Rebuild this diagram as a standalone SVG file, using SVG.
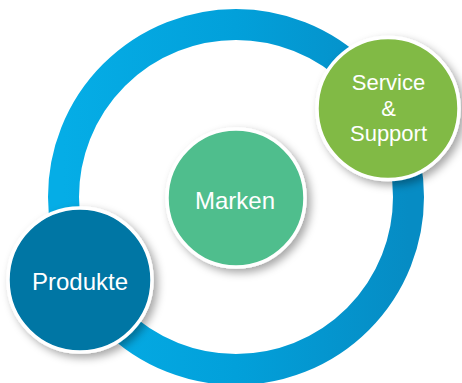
<svg xmlns="http://www.w3.org/2000/svg" width="462" height="383" viewBox="0 0 462 383">
  <defs>
    <linearGradient id="ringGrad" x1="0" y1="0" x2="1" y2="0">
      <stop offset="0" stop-color="#05ADE6"/>
      <stop offset="0.5" stop-color="#02A0DA"/>
      <stop offset="1" stop-color="#068CC4"/>
    </linearGradient>
    <filter id="shadow" x="-30%" y="-30%" width="170%" height="170%">
      <feDropShadow dx="4" dy="4" stdDeviation="4" flood-color="#000" flood-opacity="0.35"/>
    </filter>
    <style>
      .node { stroke: #fff; stroke-width: 3.5; filter: url(#shadow); }
      .label { font-family: "Liberation Sans", Arial, sans-serif; font-size: 24px; fill: #fff; text-anchor: middle; }
      .small { font-size: 22px; }
    </style>
  </defs>
  <rect width="462" height="383" fill="#fff"/>
  <g id="connectors">
    <circle cx="236" cy="197" r="172.5" fill="none" stroke="url(#ringGrad)" stroke-width="31"/>
  </g>
  <g id="marken">
    <circle class="node" cx="236" cy="198" r="69" fill="#50BE8D"/>
    <text class="label" x="235" y="209">Marken</text>
  </g>
  <g id="service">
    <circle class="node" cx="388" cy="108.5" r="71" fill="#81BA44"/>
    <text class="label small" x="388.5" y="90">Service</text>
    <text class="label small" x="388.5" y="115.5">&amp;</text>
    <text class="label small" x="388.5" y="141">Support</text>
  </g>
  <g id="produkte">
    <circle class="node" cx="80" cy="280" r="72" fill="#0076A4"/>
    <text class="label" x="80" y="290">Produkte</text>
  </g>
</svg>
